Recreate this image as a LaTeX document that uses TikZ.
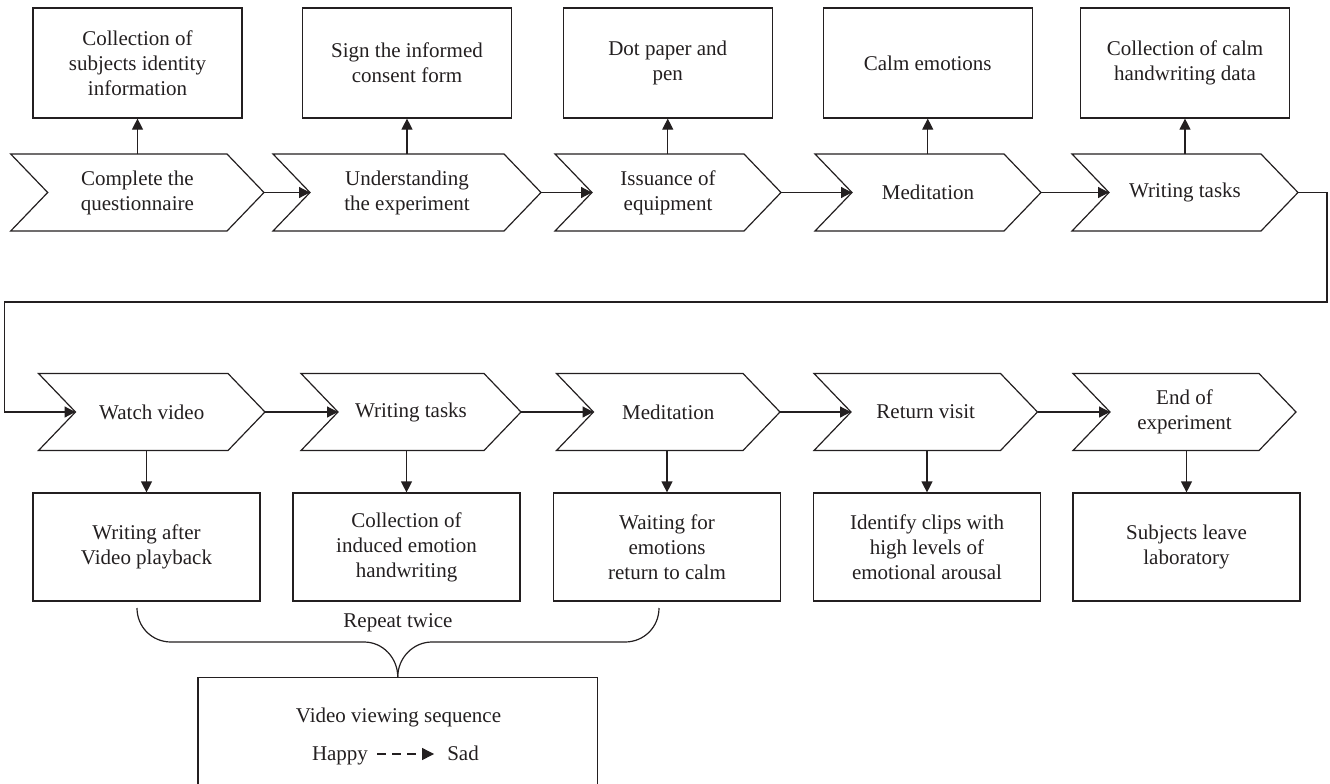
\documentclass[tikz,border=0pt]{standalone}
\usepackage{fontspec}
\setmainfont{Liberation Serif}
\usetikzlibrary{arrows.meta,calc}
\definecolor{ink}{HTML}{231F20}
\tikzset{
  inkline/.style={draw=ink, line width=1.2pt},
  txt/.style={text=ink, align=center, inner sep=0pt, font=\fontsize{21}{25}\selectfont},
  box/.style={txt, inkline, rectangle},
  topbox/.style={box, minimum width=209pt, minimum height=110pt},
  lowbox/.style={box, minimum width=227pt, minimum height=108pt},
  arr/.style={inkline, -{Triangle[length=11pt,width=11pt]}},
  chevshape/.style={inkline, line join=miter},
}
% chevron step: name, left x, top-right x, centre y, text
\newcommand\chevron[5]{%
  \draw[chevshape] (#2,{#4-38.5}) -- (#3,{#4-38.5}) -- ({#3+37},#4)
        -- (#3,{#4+38.5}) -- (#2,{#4+38.5}) -- ({#2+37},#4) -- cycle;
  \node[txt] (#1) at ({(#2+#3+37)/2},#4) {#5};
  \coordinate (#1-n) at ({#2+37},#4);
  \coordinate (#1-t) at ({#3+37},#4);
  \coordinate (#1-top) at ({(#2+#3+37)/2},{#4-38.5});
  \coordinate (#1-bot) at ({(#2+#3+37)/2},{#4+38.5});
}
\begin{document}
\begin{tikzpicture}[x=1pt,y=-1pt]
\useasboundingbox (0,0) rectangle (1330,784);
\clip (0,0) rectangle (1330,784);

% first row of steps
\chevron{c1}{10.7}{227}{192.5}{Complete the\\questionnaire}
\chevron{c2}{273}{504}{192.5}{Understanding\\the experiment}
\chevron{c3}{555}{744}{192.5}{Issuance of\\equipment}
\chevron{c4}{815}{1004}{192.5}{Meditation}
\chevron{c5}{1072}{1261}{192.5}{Writing tasks}

% outcomes of the first row
\node[topbox] (b1) at (137.5,63) {Collection of\\subjects identity\\information};
\node[topbox] (b2) at (407,63) {Sign the informed\\consent form};
\node[topbox] (b3) at (667.75,63) {Dot paper and\\pen};
\node[topbox] (b4) at (927.75,63) {Calm emotions};
\node[topbox] (b5) at (1185,63) {Collection of calm\\handwriting data};

% second row of steps
\chevron{c6}{38.5}{228}{412}{Watch video}
\chevron{c7}{301}{484}{412}{Writing tasks}
\chevron{c8}{556.5}{743}{412}{Meditation}
\chevron{c9}{814}{1000.5}{412}{Return visit}
\chevron{c10}{1073}{1259}{412}{End of\\experiment}

% outcomes of the second row
\node[lowbox] (b6) at (146.5,547) {Writing after\\Video playback};
\node[lowbox] (b7) at (406.5,547) {Collection of\\induced emotion\\handwriting};
\node[lowbox] (b8) at (667,547) {Waiting for\\emotions\\return to calm};
\node[lowbox] (b9) at (927,547) {Identify clips with\\high levels of\\emotional arousal};
\node[lowbox] (b10) at (1186.5,547) {Subjects leave\\laboratory};

% flow along the rows
\draw[arr] (c1-t) -- (c2-n);
\draw[arr] (c2-t) -- (c3-n);
\draw[arr] (c3-t) -- (c4-n);
\draw[arr] (c4-t) -- (c5-n);
\draw[arr] (c6-t) -- (c7-n);
\draw[arr] (c7-t) -- (c8-n);
\draw[arr] (c8-t) -- (c9-n);
\draw[arr] (c9-t) -- (c10-n);

% wrap from the end of row one to the start of row two
\coordinate (wrapR) at (1327,302);
\coordinate (wrapL) at (4.3,302);
\draw[arr] (c5-t) -| (wrapR) -- (wrapL) |- (c6-n);

% steps to outcomes
\foreach \i in {1,...,5}
  \draw[arr] (b\i.south |- c\i-top) -- (b\i.south);
\foreach \i in {6,...,10}
  \draw[arr] (b\i.north |- c\i-bot) -- (b\i.north);

% video sequence box (runs off the lower edge)
\node[box, minimum width=399.5pt, minimum height=140pt, anchor=north] (seq) at (397.75,677) {};
\node[txt] (seqtitle) at (398.5,717) {Video viewing sequence};
\node[txt, anchor=base] (happy) at (340,760) {Happy};
\node[txt, anchor=base] (sad) at (463,760) {Sad};
\coordinate (seqline) at (0,754);
\draw[inkline, dash pattern=on 9pt off 6pt, -{Triangle[length=12pt,width=12pt]},
      shorten <=9pt, shorten >=13pt] (happy.east |- seqline) -- (sad.west |- seqline);

% brace gathering the repeated steps
\coordinate (braceL) at (137,608);
\coordinate (braceR) at (659,608);
\draw[inkline] (braceL) .. controls (137,627) and (152,642) .. (171,642)
  -- (364,642) .. controls (383,642) and ($(seq.north)+(0,-19)$) .. (seq.north);
\draw[inkline] (braceR) .. controls (659,627) and (644,642) .. (625,642)
  -- (432,642) .. controls (413,642) and ($(seq.north)+(0,-19)$) .. (seq.north);
\node[txt] (repeat) at (398,623) {Repeat twice};
\end{tikzpicture}
\end{document}
